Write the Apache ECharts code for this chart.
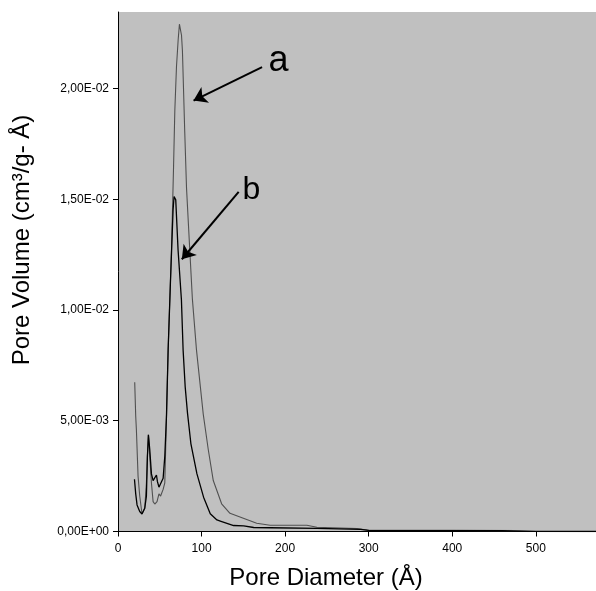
<!DOCTYPE html>
<html>
<head>
<meta charset="utf-8">
<script src="https://cdn.jsdelivr.net/npm/echarts@6/dist/echarts.min.js"></script>
<style>html,body{margin:0;padding:0;background:#fff}#c{width:596px;height:591px}</style>
</head>
<body>
<div id="c"></div>
<script>
// Curve a (grey)
var diameterA = [20,21.2,22,24,26,28.7,32,34,35.2,36.4,38,40,42,44,46.7,49,51,54,56,56.7,60,64,66.5,68,70,72,73.5,74.5,76,77.1,79.9,82,85.9,89,93.9,102,108,114,124,134,150,166,182,226,238,286,298,400,480,500,572];
var volumeA = [0.00674,0.0052,0.0046,0.0025,0.0016,0.0008,0.00105,0.0022,0.0034,0.00437,0.0034,0.0022,0.00135,0.00124,0.00135,0.0017,0.0016,0.0019,0.0022,0.0032,0.0082,0.0127,0.0165,0.0190,0.0210,0.0222,0.0229,0.0229,0.0224,0.0217,0.0180,0.0155,0.0127,0.0105,0.0082,0.0053,0.0037,0.0023,0.00125,0.00082,0.0006,0.00037,0.00028,0.00028,0.00019,0.00013,0.00007,0.00005,0.00004,0,0];
// Curve b (black)
var diameterB = [19.7,21.2,22.8,26,28.7,32,34,35.2,36.4,38,40,42,44,46,47.2,49,51,54,56,58,60,62.7,65.9,67.1,68.2,69.1,71.9,75.9,77.9,80.4,83.2,87.2,94.4,102.4,110.4,118.4,122.4,138.4,150.4,162.4,182.4,238.4,290.4,300,460,480,572];
var volumeB = [0.00236,0.0017,0.0012,0.0009,0.00079,0.00105,0.0016,0.0034,0.00437,0.0037,0.0026,0.0023,0.0023,0.00255,0.00225,0.0020,0.00206,0.0024,0.0034,0.0052,0.0082,0.0112,0.01451,0.01512,0.0151,0.01497,0.0127,0.01045,0.0082,0.00653,0.00533,0.00397,0.00261,0.00155,0.0008,0.00052,0.00047,0.00027,0.00025,0.00018,0.00017,0.00014,0.0001,0.00005,0.00004,0.00001,0];
var xTicks = [0,100,200,300,400,500];
var yTicks = [0,0.005,0.01,0.015,0.02];
var labelA = 'a', labelB = 'b';

function zip(x, y){ return x.map(function(v,i){ return [v, y[i]]; }); }
function fmtY(v){
  var s = Number(v).toExponential(2);
  var parts = s.split('e');
  var mant = parts[0].replace('.', ',');
  var exp = parseInt(parts[1], 10);
  var sign = exp < 0 ? '-' : '+';
  var ae = Math.abs(exp);
  return mant + 'E' + sign + (ae < 10 ? '0' + ae : '' + ae);
}
var FONT = '"Liberation Sans", Arial, sans-serif';
var chart = echarts.init(document.getElementById('c'), null, {renderer:'canvas'});
chart.setOption({
  animation: false,
  backgroundColor: '#ffffff',
  grid: {left:118, top:12, right:0, bottom:59.5, show:true, backgroundColor:'#c0c0c0', borderWidth:0, containLabel:false},
  xAxis: {
    type:'value', min:0, max:572,
    axisLine:{show:true, onZero:false, lineStyle:{color:'#000', width:1}},
    axisTick:{show:true, length:5, lineStyle:{color:'#000'}, customValues: xTicks},
    axisLabel:{color:'#000', fontSize:12, fontFamily:FONT, margin:11, customValues: xTicks},
    splitLine:{show:false}
  },
  yAxis: {
    type:'value', min:0, max:0.02345,
    axisLine:{show:true, onZero:false, lineStyle:{color:'#000', width:1}},
    axisTick:{show:true, length:5, lineStyle:{color:'#000'}, customValues: yTicks},
    axisLabel:{color:'#000', fontSize:12, fontFamily:FONT, margin:9, formatter: fmtY, customValues: yTicks},
    splitLine:{show:false}
  },
  graphic: [
    {type:'text', x:22, y:240, rotation:Math.PI/2, style:{text:'Pore Volume (cm³/g- Å)', fontSize:24, fontFamily:FONT, fill:'#000', align:'center', verticalAlign:'middle'}},
    {type:'text', x:326, y:578, style:{text:'Pore Diameter (Å)', fontSize:24, fontFamily:FONT, fill:'#000', align:'center', verticalAlign:'middle'}}
  ],
  series: [
    {
      type:'line', name:'a', data: zip(diameterA, volumeA), showSymbol:false, symbol:'none', silent:true,
      lineStyle:{color:'#505050', width:1.1}, z:2,
      markLine:{
        silent:true, symbol:['none','arrow'], symbolSize:13, animation:false,
        lineStyle:{color:'#000', width:2, type:'solid'}, label:{show:false},
        data:[
          [{coord:[172.4,0.02096]},{coord:[90.4,0.01945]}],
          [{coord:[144.4,0.01533]},{coord:[76.4,0.01229]}]
        ]
      },
      markPoint:{
        silent:true, symbol:'rect', symbolSize:1, itemStyle:{color:'rgba(0,0,0,0)'},
        data:[
          {coord:[192,0.02124], value:labelA, label:{show:true, formatter:labelA, position:'inside', fontSize:36, fontFamily:FONT, color:'#000'}},
          {coord:[159.6,0.01541], value:labelB, label:{show:true, formatter:labelB, position:'inside', fontSize:32, fontFamily:FONT, color:'#000'}}
        ]
      }
    },
    {
      type:'line', name:'b', data: zip(diameterB, volumeB), showSymbol:false, symbol:'none', silent:true,
      lineStyle:{color:'#000', width:1.3}, z:3
    }
  ]
});
</script>
</body>
</html>
